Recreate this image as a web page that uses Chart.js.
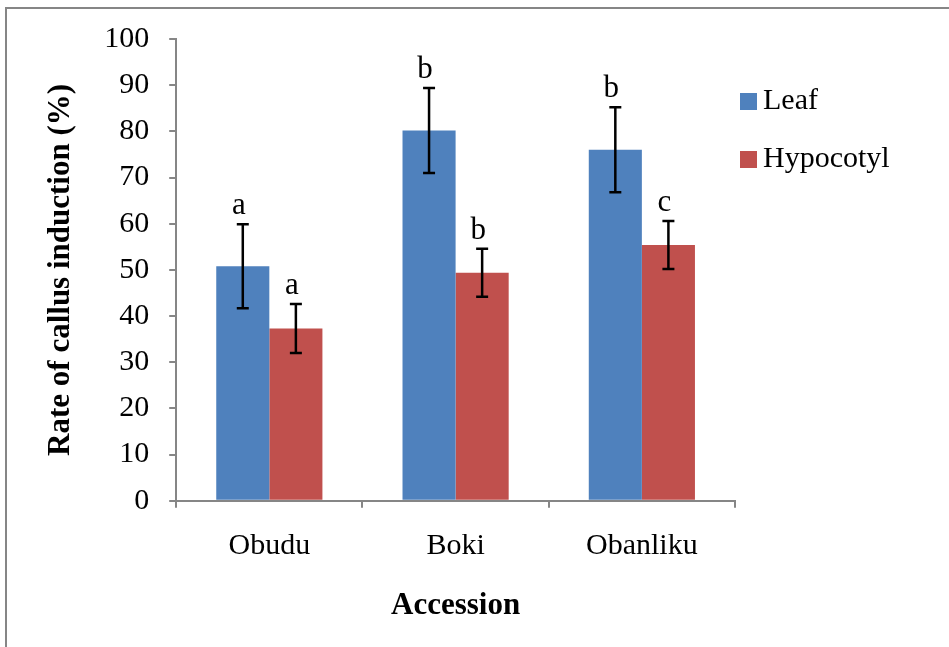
<!DOCTYPE html>
<html>
<head>
<meta charset="utf-8">
<script src="https://cdn.jsdelivr.net/npm/chart.js@4.4.1/dist/chart.umd.min.js"></script>
<style>
  html, body { margin: 0; padding: 0; background: #fff; overflow: hidden; }
  #wrap { position: relative; width: 949px; height: 647px; }
  #frame { position: absolute; left: 5px; top: 7px; width: 1000px; height: 700px; border: 2px solid #868686; box-sizing: border-box; }
  canvas { position: absolute; left: 0; top: 0; }
</style>
</head>
<body>
<div id="wrap">
  <div id="frame"></div>
  <canvas id="callusChart" width="949" height="647"></canvas>
</div>
<script>
// accessions on the x-axis
const accessions = ['Obudu', 'Boki', 'Obanliku'];
// mean rate of callus induction (%)
const leafValues = [50.8, 80.2, 76.0];
const hypocotylValues = [37.3, 49.4, 55.4];
// error bar half-lengths
const leafErrors = [9.1, 9.2, 9.2];
const hypocotylErrors = [5.3, 5.2, 5.2];
// significance letters above the error bars
const leafLetters = ['a', 'b', 'b'];
const hypocotylLetters = ['a', 'b', 'c'];
// y-axis tick values
const yTicks = [0, 10, 20, 30, 40, 50, 60, 70, 80, 90, 100];

const serif = '"Liberation Serif", "Times New Roman", serif';
const axisGray = '#868686';

// draws error bars, letters and the legend on the right
const extrasPlugin = {
    id: 'extras',
    afterDatasetsDraw(chart) {
        const ctx = chart.ctx;
        const y = chart.scales.y;
        ctx.save();
        chart.data.datasets.forEach(function (ds, i) {
            const meta = chart.getDatasetMeta(i);
            meta.data.forEach(function (bar, j) {
                const v = ds.data[j];
                const top = y.getPixelForValue(v + ds.errors[j]);
                const bottom = y.getPixelForValue(v - ds.errors[j]);
                ctx.strokeStyle = '#000';
                ctx.lineWidth = 2.5;
                ctx.beginPath();
                ctx.moveTo(bar.x, top);
                ctx.lineTo(bar.x, bottom);
                ctx.moveTo(bar.x - 6, top);
                ctx.lineTo(bar.x + 6, top);
                ctx.moveTo(bar.x - 6, bottom);
                ctx.lineTo(bar.x + 6, bottom);
                ctx.stroke();
                // letter
                ctx.fillStyle = '#000';
                ctx.font = '31px ' + serif;
                ctx.textAlign = 'center';
                ctx.textBaseline = 'alphabetic';
                ctx.fillText(ds.letters[j], bar.x - 4, top - 10);
            });
        });
        // legend
        const items = chart.data.datasets;
        items.forEach(function (ds, i) {
            const cy = 101.5 + i * 58;
            ctx.fillStyle = ds.backgroundColor;
            ctx.fillRect(740, cy - 8.5, 17, 17);
            ctx.fillStyle = '#000';
            ctx.font = '30px ' + serif;
            ctx.textAlign = 'left';
            ctx.textBaseline = 'middle';
            ctx.fillText(ds.label, 763, cy);
        });
        ctx.restore();
    }
};

const ctx = document.getElementById('callusChart').getContext('2d');
const callusChart = new Chart(ctx, {
    type: 'bar',
    data: {
        labels: accessions,
        datasets: [
            {
                label: 'Leaf',
                data: leafValues,
                errors: leafErrors,
                letters: leafLetters,
                backgroundColor: '#4F81BD',
                categoryPercentage: 0.57,
                barPercentage: 1.0
            },
            {
                label: 'Hypocotyl',
                data: hypocotylValues,
                errors: hypocotylErrors,
                letters: hypocotylLetters,
                backgroundColor: '#C0504D',
                categoryPercentage: 0.57,
                barPercentage: 1.0
            }
        ]
    },
    options: {
        responsive: false,
        animation: false,
        devicePixelRatio: 1,
        layout: {
            padding: { left: 42, right: 214, top: 39, bottom: 22 }
        },
        plugins: {
            legend: { display: false },
            tooltip: { enabled: false }
        },
        scales: {
            y: {
                min: 0,
                max: 100,
                afterBuildTicks: function (axis) {
                    axis.ticks = yTicks.map(function (v) { return { value: v }; });
                },
                border: { color: axisGray, width: 2 },
                grid: { drawOnChartArea: false, drawTicks: true, tickLength: 7, color: axisGray, lineWidth: 2 },
                ticks: { color: '#000', padding: 20, font: { family: serif, size: 30 } },
                title: {
                    display: true,
                    text: 'Rate of callus induction (%)',
                    color: '#000',
                    font: { family: serif, size: 31, weight: 'bold' },
                    padding: { top: 0, bottom: 5 }
                }
            },
            x: {
                border: { color: axisGray, width: 2 },
                grid: { drawOnChartArea: false, drawTicks: true, tickLength: 7, color: axisGray, lineWidth: 2, offset: true },
                ticks: { color: '#000', padding: 20, font: { family: serif, size: 30 } },
                title: {
                    display: true,
                    text: 'Accession',
                    color: '#000',
                    font: { family: serif, size: 31, weight: 'bold' },
                    padding: { top: 4, bottom: 0 }
                }
            }
        }
    },
    plugins: [extrasPlugin]
});
</script>
</body>
</html>
